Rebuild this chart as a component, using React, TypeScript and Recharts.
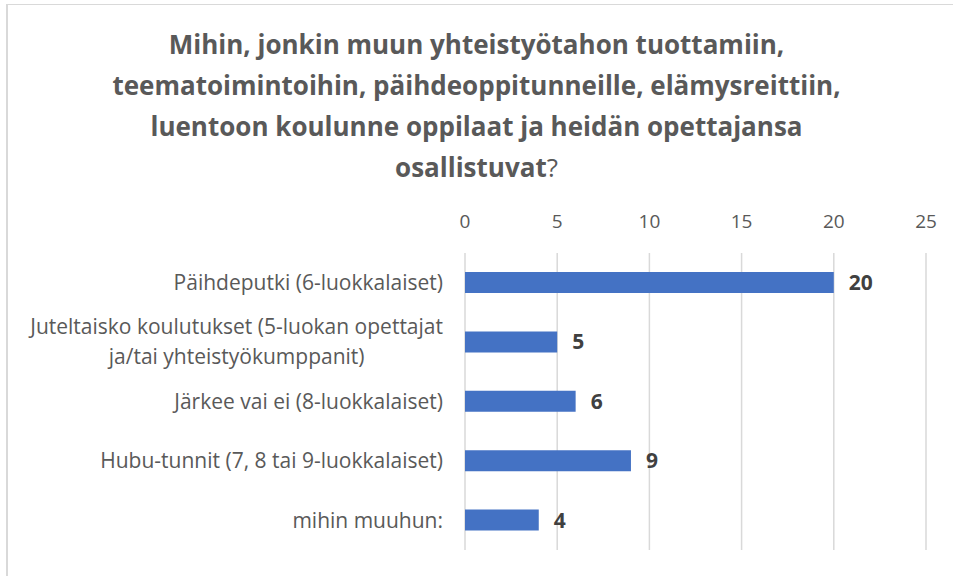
import { BarChart, Bar, XAxis, YAxis, CartesianGrid, LabelList } from 'recharts';

const categories = [
  ['Päihdeputki (6-luokkalaiset)'],
  ['Juteltaisko koulutukset (5-luokan opettajat', 'ja/tai yhteistyökumppanit)'],
  ['Järkee vai ei (8-luokkalaiset)'],
  ['Hubu-tunnit (7, 8 tai 9-luokkalaiset)'],
  ['mihin muuhun:'],
];
const values = [20, 5, 6, 9, 4];
const xTicks = [0, 5, 10, 15, 20, 25];

const titleLines = [
  'Mihin, jonkin muun yhteistyötahon tuottamiin,',
  'teematoimintoihin, päihdeoppitunneille, elämysreittiin,',
  'luentoon koulunne oppilaat ja heidän opettajansa',
];

const data = categories.map((lines, i) => ({ name: lines.join(' '), lines, value: values[i] }));

const FONT = '"Open Sans", sans-serif';
const TICK_SIZE = 21;

let ctx: CanvasRenderingContext2D | null = null;
function textWidth(s: string) {
  if (!ctx) ctx = document.createElement('canvas').getContext('2d');
  if (!ctx) return s.length * 10;
  ctx.font = `${TICK_SIZE}px ${FONT}`;
  return ctx.measureText(s).width;
}

function CategoryTick(props: any) {
  const { x, y, payload } = props;
  const item = data.find(d => d.name === payload.value);
  const lines = item ? item.lines : [String(payload.value)];
  if (lines.length === 1) {
    return (
      <text x={x} y={y} dy="0.35em" textAnchor="end" fill="#595959" fontSize={TICK_SIZE} fontFamily={FONT}>
        {lines[0]}
      </text>
    );
  }
  const w = Math.max(...lines.map(textWidth));
  const cx = x - w / 2;
  const lh = 30;
  const start = y - ((lines.length - 1) * lh) / 2;
  return (
    <text textAnchor="middle" fill="#595959" fontSize={TICK_SIZE} fontFamily={FONT}>
      {lines.map((l: string, i: number) => (
        <tspan key={i} x={cx} y={start + i * lh} dy="0.35em">{l}</tspan>
      ))}
    </text>
  );
}

export default function App() {
  return (
    <div style={styles.page}>
      <div style={styles.frame} />
      <div style={styles.title}>
        {titleLines.map(l => (
          <div key={l}>{l}</div>
        ))}
        <div>
          osallistuvat<span style={{ fontWeight: 400 }}>?</span>
        </div>
      </div>
      <BarChart
        width={953}
        height={576}
        data={data}
        layout="vertical"
        margin={{ top: 200, right: 27, bottom: 26, left: 0 }}
        barCategoryGap={0}
      >
        <CartesianGrid horizontal={false} stroke="#d9d9d9" strokeWidth={1.5} />
        <XAxis
          type="number"
          orientation="top"
          domain={[0, 25]}
          ticks={xTicks}
          height={53}
          axisLine={false}
          tickLine={false}
          tickMargin={19}
          tick={{ fill: '#595959', fontSize: 19, fontFamily: FONT }}
          interval={0}
        />
        <YAxis
          type="category"
          dataKey="name"
          width={465}
          axisLine={false}
          tickLine={false}
          tickMargin={16}
          tick={<CategoryTick />}
          interval={0}
        />
        <Bar dataKey="value" fill="#4472c4" barSize={21} isAnimationActive={false}>
          <LabelList
            dataKey="value"
            position="right"
            offset={15}
            fill="#404040"
            fontSize={21}
            fontWeight={700}
            fontFamily={FONT}
          />
        </Bar>
      </BarChart>
    </div>
  );
}

const styles: Record<string, React.CSSProperties> = {
  page: {
    position: 'absolute',
    left: 0,
    top: 0,
    width: 953,
    height: 576,
    background: '#fff',
    overflow: 'hidden',
  },
  frame: {
    position: 'absolute',
    left: 6,
    top: 4,
    width: 1000,
    height: 1000,
    borderLeft: '2px solid #d9d9d9',
    borderTop: '1px solid #d9d9d9',
  },
  title: {
    position: 'absolute',
    left: 0,
    top: 24,
    width: 953,
    textAlign: 'center',
    fontFamily: FONT,
    fontWeight: 700,
    fontSize: 26,
    lineHeight: '41px',
    color: '#595959',
  },
};
